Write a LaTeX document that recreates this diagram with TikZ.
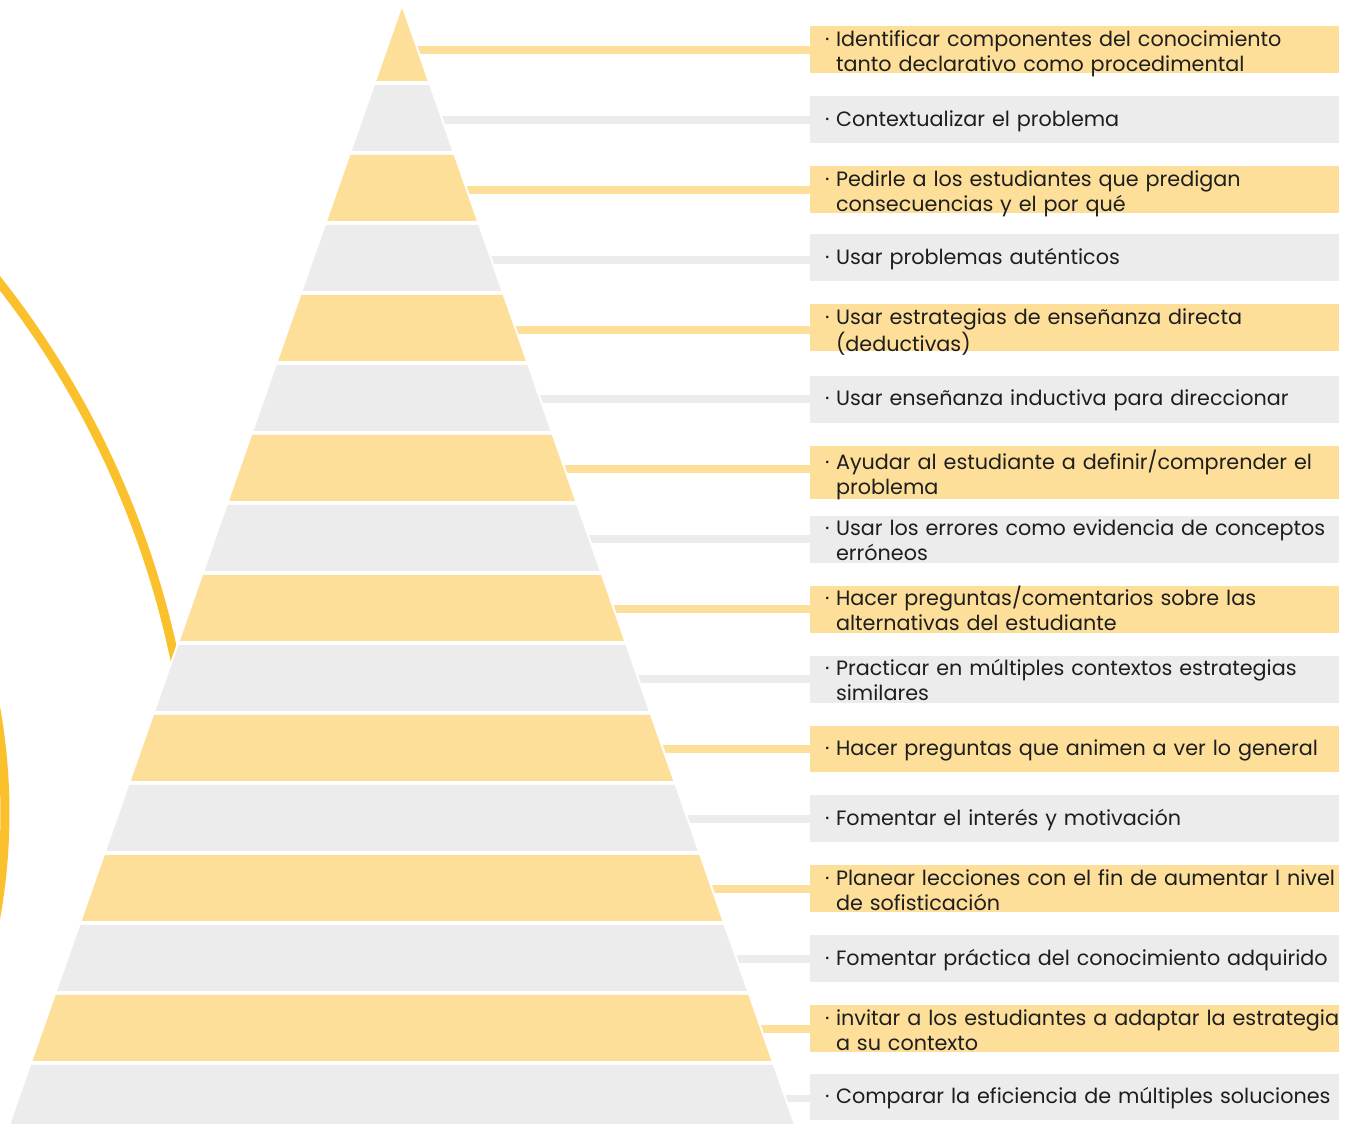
\documentclass[tikz,border=0pt]{standalone}
\usepackage{fontspec}
\setmainfont{Poppins}
\usepackage{tikz}
\definecolor{bandyellow}{RGB}{253,223,153}
\definecolor{bandgray}{RGB}{236,236,236}
\definecolor{ringyellow}{RGB}{251,193,45}
\definecolor{inktext}{RGB}{30,30,30}
\newcommand\bul[1]{\hspace*{0.3cm}\begin{tabular}[t]{@{}l@{}l@{}}\makebox[0.22cm][l]{·}&\begin{tabular}[t]{@{}l@{}}#1\end{tabular}\end{tabular}}
\newcommand\itm[1]{\raisebox{0pt}[0.6cm][0.34cm]{\bul{#1}}}
\newcommand\itmtwo[1]{\raisebox{0pt}[0.4cm][0.54cm]{\bul{#1}}}

\begin{document}
\begin{tikzpicture}[
  x=0.02cm, y=-0.02cm,
  itembox/.style={
    minimum width=10.58cm,
    minimum height=0.94cm,
    text width=10.58cm,
    inner xsep=0pt, inner ysep=0pt,
    align=left,
    text=inktext,
    font=\fontsize{11.8pt}{0.5cm}\selectfont
  },
  link/.style={line width=0.16cm},
  ring/.style={ringyellow,line width=0.18cm}
]
\useasboundingbox (0,0) rectangle (1350,1124);

\node[itembox,fill=bandyellow] (item1) at (1074.5,50) {\itmtwo{Identificar componentes del conocimiento\\tanto declarativo como procedimental}};
\node[itembox,fill=bandgray] (item2) at (1074.5,119.9) {\itm{Contextualizar el problema}};
\node[itembox,fill=bandyellow] (item3) at (1074.5,189.8) {\itmtwo{Pedirle a los estudiantes que predigan\\consecuencias y el por qué}};
\node[itembox,fill=bandgray] (item4) at (1074.5,258) {\itm{Usar problemas auténticos}};
\node[itembox,fill=bandyellow] (item5) at (1074.5,328) {\itmtwo{Usar estrategias de enseñanza directa\\(deductivas)}};
\node[itembox,fill=bandgray] (item6) at (1074.5,399.5) {\itm{Usar enseñanza inductiva para direccionar}};
\node[itembox,fill=bandyellow,minimum height=1.06cm,yshift=-0.07cm] (item7) at (1074.5,469.4) {\itmtwo{Ayudar al estudiante a definir/comprender el\\problema}};
\node[itembox,fill=bandgray] (item8) at (1074.5,539.3) {\itmtwo{Usar los errores como evidencia de conceptos\\erróneos}};
\node[itembox,fill=bandyellow] (item9) at (1074.5,609.2) {\itmtwo{Hacer preguntas/comentarios sobre las\\alternativas del estudiante}};
\node[itembox,fill=bandgray] (item10) at (1074.5,679.1) {\itmtwo{Practicar en múltiples contextos estrategias\\similares}};
\node[itembox,fill=bandyellow] (item11) at (1074.5,749) {\itm{Hacer preguntas que animen a ver lo general}};
\node[itembox,fill=bandgray] (item12) at (1074.5,818.9) {\itm{Fomentar el interés y motivación}};
\node[itembox,fill=bandyellow] (item13) at (1074.5,888.8) {\itmtwo{Planear lecciones con el fin de aumentar l nivel\\de sofisticación}};
\node[itembox,fill=bandgray] (item14) at (1074.5,958.7) {\itm{Fomentar práctica del conocimiento adquirido}};
\node[itembox,fill=bandyellow] (item15) at (1074.5,1028.6) {\itmtwo{invitar a los estudiantes a adaptar la estrategia\\a su contexto}};
\node[itembox,fill=bandgray] (item16) at (1074.5,1097) {\itm{Comparar la eficiencia de múltiples soluciones}};

% rings behind the pyramid
\draw[ring] (-716,845) ++(-42:910) arc[start angle=-42,end angle=10,radius=910];
\draw[ring] (-590,813) ++(-20:595) arc[start angle=-20,end angle=20,radius=595];

% bars from each level to its box
\foreach \k in {1,...,16}
  \coordinate (lvl\k) at (402,{50+69.9*(\k-1)});
\foreach \k in {1,3,...,15}
  \draw[link,bandyellow] (lvl\k) -- (lvl\k -| item\k.west);
\foreach \k in {2,4,...,16}
  \draw[link,bandgray] (lvl\k) -- (lvl\k -| item\k.west);

% pyramid
\filldraw[white,line width=0.08cm,line join=round] (402,8) -- (793.9,1125) -- (10.1,1125) -- cycle;
\foreach \k in {1,...,16}{
  \pgfmathsetmacro\ytop{\k==1 ? 8 : 15+70*(\k-1)}
  \pgfmathsetmacro\ybot{81+70*(\k-1)}
  \pgfmathsetmacro\wt{0.3508*(\ytop-8)}
  \pgfmathsetmacro\wb{0.3508*(\ybot-8)}
  \ifodd\k \def\bandcol{bandyellow}\else \def\bandcol{bandgray}\fi
  \fill[\bandcol] (402-\wt,\ytop) -- (402+\wt,\ytop) -- (402+\wb,\ybot) -- (402-\wb,\ybot) -- cycle;
}

\end{tikzpicture}
\end{document}
